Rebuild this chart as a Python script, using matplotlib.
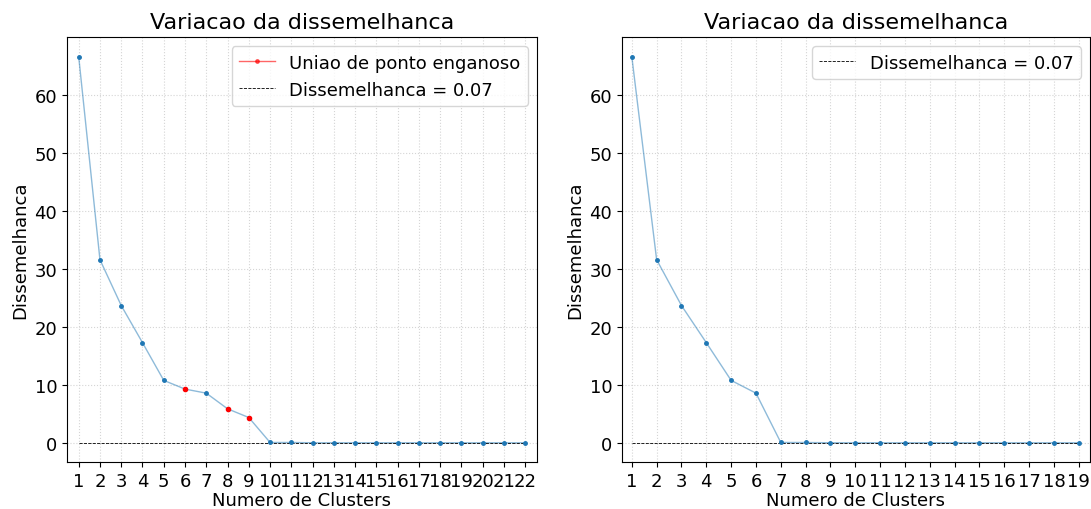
import numpy as np
import matplotlib.pyplot as plt

# dados
clusters_a = list(range(1, 23))
dissim_a = [66.6, 31.6, 23.7, 17.3, 10.8, 9.3, 8.6, 5.9, 4.4, 0.1, 0.1,
            0.05, 0.05, 0.05, 0.05, 0.05, 0.05, 0.05, 0.05, 0.05, 0.05, 0.05]
enganosos = [6, 8, 9]

clusters_b = list(range(1, 20))
dissim_b = [66.6, 31.6, 23.7, 17.3, 10.8, 8.6, 0.1, 0.1, 0.05, 0.05,
            0.05, 0.05, 0.05, 0.05, 0.05, 0.05, 0.05, 0.05, 0.05]

limiar = 0.07

fig = plt.figure(figsize=(10.91, 5.10), dpi=100)
ax1 = fig.add_axes([0.0614, 0.092, 0.4308, 0.833])
ax2 = fig.add_axes([0.570, 0.092, 0.429, 0.833])

def painel(ax, x, y, xlim, marcados=None):
    ax.plot(x, y, '-', color='C0', alpha=0.5, lw=1)
    ax.plot(x, y, 'o', color='C0', ms=2.5, zorder=3)
    if marcados:
        idx = [x.index(m) for m in marcados]
        ax.plot([x[i] for i in idx], [y[i] for i in idx], 'o', color='red',
                ms=3, zorder=4)
        ax.plot([], [], '-', color='red', alpha=0.6, lw=1, marker='o', ms=2.5,
                mfc='red', mec='red', label='Uniao de ponto enganoso')
    ax.plot(x, [limiar] * len(x), '--', color='black', lw=0.6,
            label='Dissemelhanca = ' + str(limiar))
    ax.set_xticks(x)
    ax.set_xlim(*xlim)
    ax.grid(True, linestyle=':', color='#d5d5d5', lw=0.8)
    ax.set_title('Variacao da dissemelhanca', fontsize=16, pad=7)
    ax.set_xlabel('Numero de Clusters', fontsize=13, labelpad=1)
    ax.set_ylabel('Dissemelhanca', fontsize=13)
    ax.tick_params(labelsize=13)
    ax.legend(fontsize=13, loc='upper right')

painel(ax1, clusters_a, dissim_a, (0.45, 22.55), enganosos)
painel(ax2, clusters_b, dissim_b, (0.6, 19.45))

fig.savefig('out.png', dpi=100)
